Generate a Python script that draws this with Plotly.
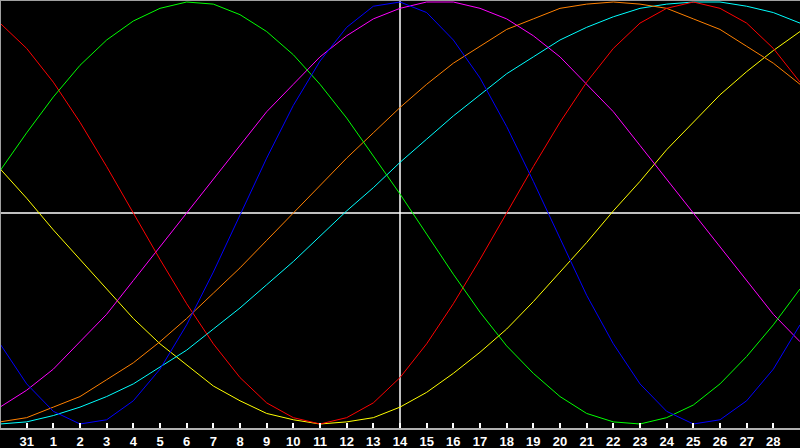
import plotly.graph_objects as go

# day index 0..30 along the bottom, index 0 and 30 are not labelled
days = list(range(31))
day_labels = ['31'] + [str(d) for d in range(1, 29)]
label_days = list(range(1, 30))
today = 15  # the 14th

# cycle values (-1 .. 1)
physical = [-0.62, -0.81, -0.94, -1.00, -0.98, -0.89, -0.74, -0.53, -0.28, -0.01,
            0.26, 0.51, 0.72, 0.88, 0.98, 1.00, 0.95, 0.82, 0.64, 0.41,
            0.15, -0.12, -0.39, -0.62, -0.81, -0.94, -1.00, -0.98, -0.89, -0.74, -0.53]
emotional = [0.90, 0.78, 0.62, 0.43, 0.22, 0.00, -0.22, -0.43, -0.62, -0.78,
             -0.90, -0.97, -1.00, -0.97, -0.90, -0.78, -0.62, -0.43, -0.22, 0.00,
             0.22, 0.43, 0.62, 0.78, 0.90, 0.97, 1.00, 0.97, 0.90, 0.78, 0.62]
intellectual = [0.20, 0.38, 0.55, 0.70, 0.82, 0.91, 0.97, 1.00, 0.99, 0.94,
                0.86, 0.75, 0.61, 0.45, 0.27, 0.09, -0.10, -0.29, -0.47, -0.63,
                -0.76, -0.87, -0.95, -0.99, -1.00, -0.97, -0.91, -0.81, -0.68, -0.53, -0.36]
intuitive = [-0.92, -0.84, -0.74, -0.61, -0.48, -0.32, -0.16, 0.00, 0.16, 0.32,
             0.48, 0.61, 0.74, 0.84, 0.92, 0.97, 1.00, 1.00, 0.97, 0.92,
             0.84, 0.74, 0.61, 0.48, 0.32, 0.16, 0.00, -0.16, -0.32, -0.48, -0.61]
aesthetic = [0.21, 0.07, -0.08, -0.22, -0.36, -0.50, -0.62, -0.72, -0.82, -0.89,
             -0.95, -0.98, -1.00, -0.99, -0.97, -0.92, -0.85, -0.76, -0.66, -0.55,
             -0.42, -0.28, -0.14, 0.01, 0.15, 0.30, 0.43, 0.56, 0.67, 0.77, 0.86]
awareness = [-0.99, -0.97, -0.92, -0.87, -0.79, -0.71, -0.61, -0.50, -0.38, -0.26,
             -0.13, 0.00, 0.13, 0.26, 0.38, 0.50, 0.61, 0.71, 0.79, 0.87,
             0.92, 0.97, 0.99, 1.00, 0.99, 0.97, 0.92, 0.87, 0.79, 0.71, 0.61]
spiritual = [-1.00, -0.99, -0.96, -0.92, -0.87, -0.81, -0.73, -0.65, -0.55, -0.45,
             -0.34, -0.23, -0.11, 0.01, 0.12, 0.24, 0.35, 0.46, 0.56, 0.66,
             0.74, 0.82, 0.88, 0.93, 0.97, 0.99, 1.00, 1.00, 0.98, 0.95, 0.90]

series = [
    ('Aesthetic', aesthetic, '#ffff00'),
    ('Spiritual', spiritual, '#00ffff'),
    ('Awareness', awareness, '#ff8000'),
    ('Intuitive', intuitive, '#ff00ff'),
    ('Emotional', emotional, '#ff0000'),
    ('Intellectual', intellectual, '#00ff00'),
    ('Physical', physical, '#0000ff'),
]

fig = go.Figure()

for name, vals, color in series:
    fig.add_trace(go.Scatter(x=days, y=vals, mode='lines', name=name,
                             line=dict(color=color, width=1)))

# white cross: zero line and today
fig.add_hline(y=0, line=dict(color='white', width=1.5), layer='below')
fig.add_vline(x=today, line=dict(color='white', width=1.5), layer='below')

# grey frame on the left and top
fig.add_shape(type='line', xref='paper', yref='paper', x0=0, x1=0, y0=0, y1=1,
              line=dict(color='#a0a0a0', width=2))
fig.add_shape(type='line', xref='paper', yref='paper', x0=0, x1=1, y0=1, y1=1,
              line=dict(color='#a0a0a0', width=2))

fig.update_layout(
    width=800, height=448,
    margin=dict(l=0, r=0, t=0, b=20, autoexpand=False),
    paper_bgcolor='black', plot_bgcolor='black',
    showlegend=False,
    xaxis=dict(range=[0, 30], showgrid=False, zeroline=False,
               showline=True, linecolor='#b0b0b0', linewidth=2,
               ticks='inside', ticklen=5, tickcolor='white', tickwidth=1.5,
               tickvals=label_days, ticktext=day_labels,
               tickfont=dict(family='Liberation Sans', size=13, color='white', weight='bold')),
    yaxis=dict(range=[-1.019, 1.0095], showgrid=False, zeroline=False,
               showticklabels=False, showline=False),
)

# drop the page's default body margin so the chart fills the window
fig.write_html("out.html", config={'displayModeBar': False},
               post_script="document.body.style.margin='0';")
